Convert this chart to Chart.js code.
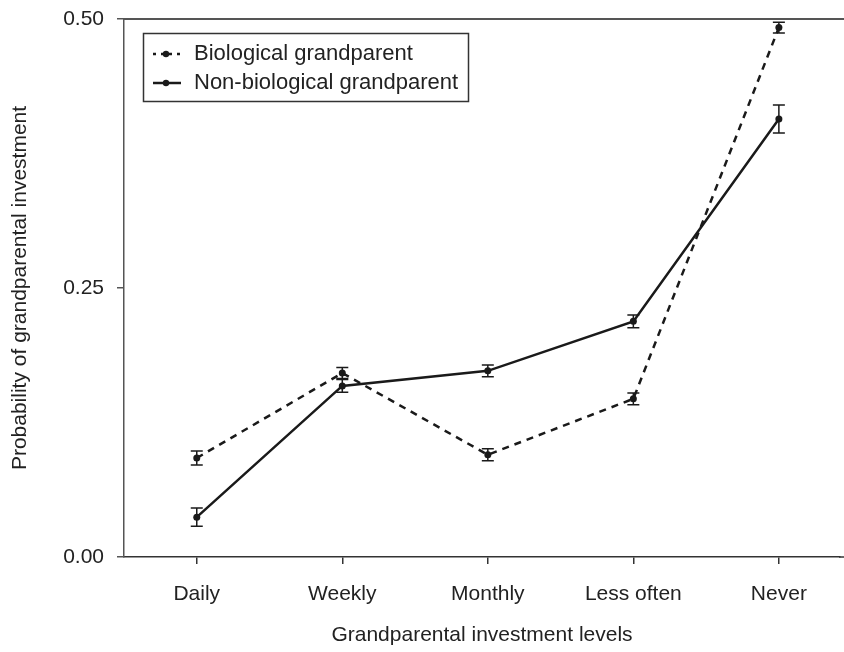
<!DOCTYPE html>
<html lang="en">
<head>
    <meta charset="UTF-8">
    <title>Probability of grandparental investment</title>
    <script src="https://cdn.jsdelivr.net/npm/chart.js"></script>
    <style>
        html, body { margin: 0; padding: 0; background: #fff; }
        canvas { display: block; }
    </style>
</head>
<body>
    <canvas id="chart" width="844" height="652"></canvas>

    <script>
        // Investment levels on the x axis
        const categories = ['Daily', 'Weekly', 'Monthly', 'Less often', 'Never'];
        const yTicks = [0, 0.25, 0.5];

        // Probabilities and their error half-widths
        const bioValues = [0.092, 0.171, 0.095, 0.147, 0.492];
        const bioErrors = [0.0065, 0.005, 0.0055, 0.0055, 0.005];
        const nonBioValues = [0.037, 0.159, 0.173, 0.219, 0.407];
        const nonBioErrors = [0.0085, 0.006, 0.0055, 0.006, 0.013];

        const FONT = '"Liberation Sans", Arial, sans-serif';
        const TEXT = '#222';
        const LINE = '#1a1a1a';

        Chart.defaults.font.family = FONT;
        Chart.defaults.color = TEXT;

        // error bars, frame lines and the boxed legend
        const extras = {
            id: 'extras',
            afterDatasetsDraw(chart) {
                const ctx = chart.ctx;
                const y = chart.scales.y;
                ctx.save();
                ctx.strokeStyle = LINE;
                ctx.lineWidth = 1.5;
                ctx.setLineDash([]);
                chart.data.datasets.forEach((ds, di) => {
                    const meta = chart.getDatasetMeta(di);
                    meta.data.forEach((pt, i) => {
                        const top = y.getPixelForValue(ds.values[i] + ds.errors[i]);
                        const bot = y.getPixelForValue(ds.values[i] - ds.errors[i]);
                        ctx.beginPath();
                        ctx.moveTo(pt.x, top); ctx.lineTo(pt.x, bot);
                        ctx.moveTo(pt.x - 6, top); ctx.lineTo(pt.x + 6, top);
                        ctx.moveTo(pt.x - 6, bot); ctx.lineTo(pt.x + 6, bot);
                        ctx.stroke();
                    });
                });
                ctx.restore();
            },
            afterDraw(chart) {
                const ctx = chart.ctx;
                const a = chart.chartArea;
                ctx.save();
                // top frame
                ctx.strokeStyle = '#555';
                ctx.lineWidth = 2;
                ctx.beginPath();
                ctx.moveTo(a.left, a.top); ctx.lineTo(chart.width, a.top);
                ctx.stroke();
                // bottom axis runs on to the edge
                ctx.strokeStyle = '#333';
                ctx.lineWidth = 1.5;
                ctx.beginPath();
                ctx.moveTo(a.right - 1, a.bottom); ctx.lineTo(chart.width, a.bottom);
                ctx.stroke();

                // legend box
                ctx.strokeStyle = '#333';
                ctx.lineWidth = 1.5;
                ctx.strokeRect(143.5, 33.5, 325, 68);
                const rows = [
                    { text: 'Biological grandparent', dash: [3, 5], y: 54 },
                    { text: 'Non-biological grandparent', dash: [], y: 83 }
                ];
                rows.forEach(r => {
                    ctx.strokeStyle = LINE;
                    ctx.lineWidth = 2.5;
                    ctx.setLineDash(r.dash);
                    ctx.beginPath();
                    ctx.moveTo(153, r.y); ctx.lineTo(181, r.y);
                    ctx.stroke();
                    ctx.setLineDash([]);
                    ctx.fillStyle = LINE;
                    ctx.beginPath();
                    ctx.arc(166, r.y, 3.2, 0, Math.PI * 2);
                    ctx.fill();
                    ctx.fillStyle = TEXT;
                    ctx.font = '22px ' + FONT;
                    ctx.textBaseline = 'middle';
                    ctx.textAlign = 'left';
                    ctx.fillText(r.text, 194, r.y);
                });
                ctx.restore();
            }
        };

        const toPoints = vals => vals.map((v, i) => ({ x: i, y: v }));

        new Chart(document.getElementById('chart'), {
            type: 'line',
            data: {
                datasets: [
                    {
                        label: 'Biological grandparent',
                        data: toPoints(bioValues),
                        values: bioValues,
                        errors: bioErrors,
                        borderColor: LINE,
                        backgroundColor: LINE,
                        borderWidth: 2.5,
                        borderDash: [7, 6],
                        pointRadius: 3.5,
                        pointBorderWidth: 0,
                        tension: 0
                    },
                    {
                        label: 'Non-biological grandparent',
                        data: toPoints(nonBioValues),
                        values: nonBioValues,
                        errors: nonBioErrors,
                        borderColor: LINE,
                        backgroundColor: LINE,
                        borderWidth: 2.5,
                        pointRadius: 3.5,
                        pointBorderWidth: 0,
                        tension: 0
                    }
                ]
            },
            options: {
                responsive: false,
                animation: false,
                layout: { padding: { top: 19, right: 0, left: 0, bottom: 0 } },
                plugins: {
                    legend: { display: false },
                    tooltip: { enabled: false }
                },
                scales: {
                    x: {
                        type: 'linear',
                        min: -0.5,
                        max: 4.42,
                        afterBuildTicks: s => { s.ticks = categories.map((c, i) => ({ value: i })); },
                        afterFit: s => { s.height = 95; s.paddingLeft = 0; s.paddingRight = 0; },
                        ticks: {
                            callback: v => categories[v],
                            font: { size: 21 },
                            color: TEXT,
                            padding: 18,
                            maxRotation: 0
                        },
                        grid: { drawOnChartArea: false, tickLength: 7, color: '#333', lineWidth: 1.5 },
                        border: { color: '#333', width: 1.5 },
                        title: {
                            display: true,
                            text: 'Grandparental investment levels',
                            font: { size: 21 },
                            color: TEXT,
                            padding: { top: 10 }
                        }
                    },
                    y: {
                        min: 0,
                        max: 0.5,
                        afterBuildTicks: s => { s.ticks = yTicks.map(v => ({ value: v })); },
                        afterFit: s => { s.width = 124; s.paddingTop = 0; s.paddingBottom = 0; },
                        ticks: {
                            callback: v => v.toFixed(2),
                            font: { size: 21 },
                            color: TEXT,
                            padding: 13
                        },
                        grid: { drawOnChartArea: false, tickLength: 7, color: '#555', lineWidth: 1.5 },
                        border: { color: '#555', width: 1.5 },
                        title: {
                            display: true,
                            text: 'Probability of grandparental investment',
                            font: { size: 21 },
                            color: TEXT,
                            padding: { top: 8, bottom: 0 }
                        }
                    }
                }
            },
            plugins: [extras]
        });
    </script>
</body>
</html>
